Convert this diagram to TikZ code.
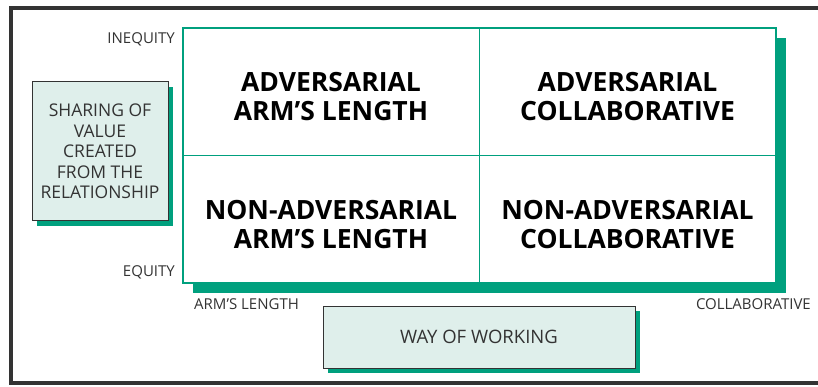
\documentclass[tikz,border=0pt]{standalone}
\usepackage{fontspec}
\setmainfont{Open Sans}
\usepackage{tikz}
\usetikzlibrary{shadows}

\definecolor{tealg}{HTML}{00A07E}
\definecolor{palefill}{HTML}{DFEFEB}
\definecolor{inkgray}{HTML}{333333}

\tikzset{
  axisbox/.style={draw=inkgray, line width=1pt, fill=palefill, text=inkgray,
    align=center, inner sep=0pt},
  cellname/.style={align=center, font=\fontsize{26.5}{29}\selectfont\bfseries},
  endlabel/.style={text=inkgray, inner sep=0pt, font=\fontsize{15}{17}\selectfont}
}

\begin{document}
\begin{tikzpicture}
  [x=1pt, y=-1pt]
  \useasboundingbox (0,0) rectangle (818,387);
  \draw[inkgray, line width=4pt] (11,8) rectangle (840,383);

  \node (grid) at (479.5, 155.5) [draw=tealg, line width=1.3pt, fill=white,
    minimum width=593pt, minimum height=255pt,
    drop shadow={shadow xshift=10pt, shadow yshift=-10pt, fill=tealg, opacity=1}] {};
  \draw[tealg, line width=1.3pt] (grid.north) -- (grid.south);
  \draw[tealg, line width=1.3pt] (grid.west) -- (grid.east);

  \node[cellname] (q1) at (331, 97) {ADVERSARIAL\\ARM'S LENGTH};
  \node[cellname] (q2) at (627.5, 97) {ADVERSARIAL\\COLLABORATIVE};
  \node[cellname] (q3) at (331, 225) {NON-ADVERSARIAL\\ARM'S LENGTH};
  \node[cellname] (q4) at (627.5, 225) {NON-ADVERSARIAL\\COLLABORATIVE};

  \node[axisbox, minimum width=136pt, minimum height=139pt,
    font=\fontsize{17.5}{20.5}\selectfont,
    drop shadow={shadow xshift=5pt, shadow yshift=-5pt, fill=tealg, opacity=1}]
    (share) at (100, 151.5) {SHARING OF\\VALUE\\CREATED\\FROM THE\\RELATIONSHIP};
  \node[axisbox, minimum width=312pt, minimum height=62pt,
    font=\fontsize{18.5}{20.5}\selectfont,
    drop shadow={shadow xshift=5pt, shadow yshift=-5pt, fill=tealg, opacity=1}]
    (way) at (479, 337) {WAY OF WORKING};

  \node[endlabel, anchor=east] (ineq) at (175, 39) {INEQUITY};
  \node[endlabel, anchor=east] (eq) at (175, 272) {EQUITY};
  \node[endlabel, anchor=west] (arm) at (194, 304) {ARM'S LENGTH};
  \node[endlabel, anchor=east] (coll) at (811, 304) {COLLABORATIVE};
\end{tikzpicture}
\end{document}
